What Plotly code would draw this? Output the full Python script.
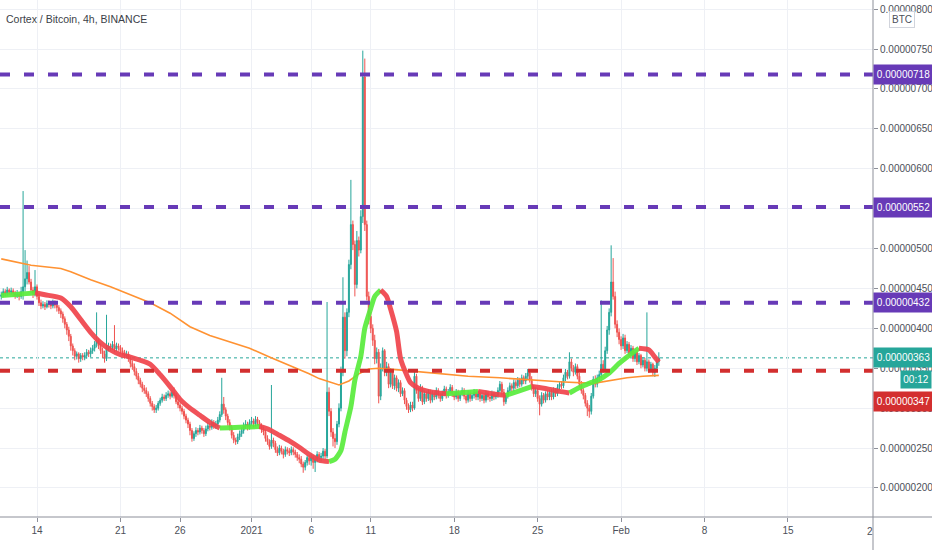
import pandas as pd
import plotly.graph_objects as go

# ---------------- data (prices in satoshi, i.e. units of 1e-8 BTC) ----------------
START = "2020-12-11 00:00"          # first 4h candle
FIRST_OPEN = 440

close = [
    442, 446, 444, 448, 445, 447,   # Dec 11
    444, 441, 443, 440, 446, 452,   # Dec 12
    462, 470, 458, 448, 444, 452,   # Dec 13
    440, 432, 428, 430, 427, 431,   # Dec 14
    430, 428, 432, 429, 426, 422,   # Dec 15
    418, 412, 405, 398, 390, 378,   # Dec 16
    372, 365, 368, 362, 366, 364,   # Dec 17
    366, 370, 368, 372, 375, 380,   # Dec 18
    385, 378, 372, 368, 362, 375,   # Dec 19
    378, 376, 380, 374, 378, 376,   # Dec 20
    372, 370, 366, 368, 362, 356,   # Dec 21
    352, 346, 340, 335, 330, 325,   # Dec 22
    322, 318, 312, 306, 302, 298,   # Dec 23
    300, 306, 310, 314, 312, 316,   # Dec 24
    318, 315, 320, 316, 308, 304,   # Dec 25
    300, 296, 290, 285, 280, 272,   # Dec 26
    262, 268, 272, 270, 275, 272,   # Dec 27
    268, 274, 278, 276, 282, 278,   # Dec 28
    280, 285, 292, 305, 298, 290,   # Dec 29
    282, 276, 266, 260, 258, 264,   # Dec 30
    268, 272, 278, 280, 276, 282,   # Dec 31
    284, 280, 286, 282, 278, 274,   # Jan 1
    270, 262, 258, 252, 260, 256,   # Jan 2
    248, 244, 250, 246, 242, 248,   # Jan 3
    246, 244, 248, 245, 242, 238,   # Jan 4
    236, 230, 226, 232, 238, 234,   # Jan 5
    238, 232, 236, 242, 238, 240,   # Jan 6
    246, 240, 320, 296, 270, 262,   # Jan 7
    258, 280, 300, 345, 414, 372,   # Jan 8
    420, 480, 530, 505, 455, 510,   # Jan 9
    498, 540, 715, 530, 440, 415,   # Jan 10
    400, 385, 362, 370, 315, 350,   # Jan 11
    372, 345, 352, 330, 345, 328,   # Jan 12
    338, 325, 332, 318, 322, 310,   # Jan 13
    302, 298, 304, 300, 340, 322,   # Jan 14
    312, 325, 308, 318, 312, 320,   # Jan 15
    310, 318, 314, 322, 316, 312,   # Jan 16
    318, 324, 316, 320, 326, 318,   # Jan 17
    314, 320, 312, 318, 322, 315,   # Jan 18
    310, 318, 312, 316, 320, 314,   # Jan 19
    318, 312, 316, 310, 318, 314,   # Jan 20
    312, 318, 314, 316, 322, 330,   # Jan 21
    320, 308, 316, 322, 328, 325,   # Jan 22
    332, 328, 335, 330, 338, 334,   # Jan 23
    340, 344, 336, 326, 318, 322,   # Jan 24
    312, 305, 316, 310, 318, 314,   # Jan 25
    320, 314, 322, 318, 326, 330,   # Jan 26
    328, 338, 345, 340, 358, 350,   # Jan 27
    345, 352, 340, 330, 322, 316,   # Jan 28
    306, 300, 296, 315, 336, 330,   # Jan 29
    338, 342, 355, 348, 372, 398,   # Jan 30
    420, 458, 440, 405, 395, 386,   # Jan 31
    378, 388, 372, 380, 368, 375,   # Feb 1
    362, 370, 358, 366, 354, 360,   # Feb 2
    350, 358, 348, 355, 345, 350,   # Feb 3
    358, 363,                       # Feb 4
]

high = [
    446, 450, 449, 452, 450, 451,
    450, 447, 448, 446, 452, 572,
    498, 485, 478, 462, 452, 473,
    455, 444, 436, 434, 433, 435,
    435, 433, 436, 435, 432, 429,
    425, 421, 415, 408, 402, 393,
    381, 375, 371, 370, 369, 369,
    370, 374, 373, 376, 379, 384,
    420, 388, 381, 376, 372, 417,
    382, 381, 384, 404, 382, 381,
    379, 376, 373, 372, 371, 365,
    360, 356, 350, 344, 338, 333,
    329, 326, 321, 315, 309, 305,
    304, 309, 313, 318, 317, 320,
    322, 321, 323, 326, 319, 311,
    307, 303, 299, 293, 288, 283,
    275, 271, 276, 275, 279, 278,
    275, 278, 282, 281, 286, 285,
    284, 289, 296, 338, 314, 301,
    293, 286, 279, 270, 263, 268,
    272, 276, 282, 285, 283, 286,
    289, 287, 290, 289, 285, 281,
    277, 273, 266, 261, 329, 263,
    259, 252, 254, 253, 249, 252,
    251, 250, 252, 251, 248, 245,
    242, 240, 233, 235, 241, 241,
    242, 241, 240, 246, 245, 244,
    250, 249, 433, 326, 300, 275,
    268, 284, 306, 352, 464, 420,
    425, 486, 586, 535, 510, 522,
    515, 548, 748, 738, 535, 446,
    420, 405, 392, 376, 374, 356,
    376, 374, 358, 356, 350, 348,
    342, 341, 336, 335, 326, 325,
    313, 306, 308, 308, 348, 343,
    326, 330, 328, 322, 321, 324,
    323, 322, 321, 326, 325, 319,
    322, 328, 327, 324, 330, 329,
    321, 324, 323, 321, 326, 325,
    318, 322, 321, 319, 324, 323,
    322, 321, 320, 319, 322, 321,
    317, 322, 321, 320, 326, 334,
    333, 324, 319, 326, 332, 331,
    336, 335, 339, 338, 342, 341,
    344, 349, 348, 340, 329, 326,
    325, 316, 320, 319, 321, 322,
    323, 324, 326, 325, 330, 334,
    334, 342, 349, 348, 370, 362,
    354, 356, 355, 344, 334, 325,
    319, 310, 304, 319, 340, 341,
    342, 347, 435, 360, 377, 403,
    425, 504, 488, 446, 410, 400,
    390, 393, 392, 384, 383, 379,
    378, 374, 373, 369, 368, 364,
    363, 420, 361, 358, 357, 354,
    362, 370,
]

low = [
    436, 439, 440, 441, 442, 442,
    440, 437, 438, 435, 437, 436,
    446, 455, 455, 444, 438, 440,
    436, 428, 424, 425, 423, 425,
    426, 424, 425, 425, 421, 418,
    413, 407, 400, 392, 384, 372,
    366, 360, 361, 357, 358, 360,
    360, 362, 364, 364, 368, 371,
    376, 374, 368, 363, 357, 359,
    371, 372, 373, 370, 371, 372,
    368, 366, 362, 363, 358, 351,
    348, 341, 336, 330, 326, 320,
    318, 314, 308, 302, 297, 294,
    294, 297, 303, 307, 309, 309,
    313, 311, 313, 312, 305, 300,
    296, 292, 286, 281, 275, 266,
    258, 259, 264, 266, 267, 268,
    264, 265, 271, 272, 273, 274,
    274, 276, 282, 289, 293, 285,
    278, 272, 262, 256, 254, 255,
    260, 264, 268, 274, 272, 273,
    278, 276, 277, 278, 274, 269,
    266, 258, 254, 248, 249, 251,
    244, 240, 241, 242, 237, 239,
    242, 240, 241, 241, 238, 234,
    231, 226, 219, 222, 228, 229,
    228, 224, 220, 232, 234, 233,
    236, 236, 237, 290, 264, 252,
    250, 254, 276, 296, 340, 362,
    365, 414, 474, 498, 440, 450,
    490, 494, 532, 522, 435, 405,
    394, 378, 355, 356, 306, 310,
    346, 340, 340, 325, 326, 324,
    323, 321, 320, 314, 315, 305,
    298, 294, 295, 296, 298, 318,
    308, 309, 304, 305, 308, 309,
    306, 307, 310, 311, 312, 308,
    309, 315, 312, 313, 317, 314,
    310, 311, 308, 309, 315, 311,
    306, 307, 308, 309, 312, 310,
    310, 308, 309, 306, 307, 310,
    308, 309, 310, 311, 313, 319,
    316, 303, 305, 312, 319, 321,
    321, 324, 325, 326, 327, 330,
    330, 336, 332, 322, 314, 314,
    308, 291, 302, 306, 307, 310,
    310, 310, 311, 314, 315, 322,
    324, 325, 334, 336, 337, 346,
    340, 342, 336, 326, 318, 311,
    302, 290, 288, 292, 312, 326,
    326, 334, 338, 344, 345, 368,
    392, 415, 436, 400, 389, 380,
    373, 374, 368, 369, 364, 365,
    358, 358, 354, 355, 350, 351,
    346, 346, 344, 345, 340, 339,
    347, 353,
]

# thick moving average, positions given as candle index
fast_ma_idx = [0, 5, 10, 15, 17, 22, 30, 35, 40, 45, 50, 55, 60, 65, 70, 75, 80, 85,
               90, 95, 100, 105, 110, 115, 120, 125, 130, 135, 140, 145, 150, 155,
               160, 165, 168, 171, 173, 176, 178, 181, 183, 186, 188, 191, 194, 196,
               199, 201, 204, 206, 210, 215, 220, 224, 230, 235, 240, 245, 250, 254,
               260, 267, 275, 281, 286, 291, 296, 301, 306, 311, 316, 321, 326, 329, 331]
fast_ma_val = [441, 442, 443, 444, 444.5, 442, 438, 427, 411, 395, 382, 373, 367, 364,
               360, 355, 342, 327, 311, 300, 291, 282, 275, 275.5, 276, 276.5, 277,
               273, 266, 259, 251, 242, 235, 233, 236, 247, 270, 302, 335, 365, 400,
               425, 440, 448, 440, 424, 396, 362, 342, 332, 325, 321, 319, 318, 319,
               320, 321, 319, 317, 316, 321, 327, 324, 321, 319, 326, 331, 336, 344,
               356, 366, 375, 373, 364, 358]

# slow (orange) moving average
slow_ma_idx = [0, 15, 30, 35, 45, 55, 65, 75, 85, 95, 105, 115, 125, 135, 145, 155,
               160, 170, 175, 180, 185, 190, 200, 218, 235, 251, 268, 281, 298, 308,
               315, 323, 331]
slow_ma_val = [487, 479, 475, 471, 461, 452, 442, 432, 419, 402, 391, 383, 375, 364,
               354, 343, 337, 329, 334, 343, 349, 350, 348, 344, 340, 338, 335, 333,
               331, 335, 338, 340, 341]

level_lines = [718, 552, 432]      # purple horizontal levels
support_line = 347                 # red horizontal level
last_price = 363
countdown = "00:12"

x_tick_dates = ["2020-12-14", "2020-12-21", "2020-12-26", "2021-01-01", "2021-01-06",
                "2021-01-11", "2021-01-18", "2021-01-25", "2021-02-01", "2021-02-08",
                "2021-02-15"]
x_tick_text = ["14", "21", "26", "2021", "6", "11", "18", "25", "Feb", "8", "15"]

TITLE = "Cortex / Bitcoin, 4h, BINANCE"

# ---------------- build ----------------
SAT = 1e-8
t0 = pd.Timestamp(START)
def idx_time(i):
    return t0 + pd.Timedelta(hours=4 * i)

n = len(close)
times = [idx_time(i) for i in range(n)]
opens = [FIRST_OPEN] + close[:-1]

FONT = "Liberation Sans, Arial, sans-serif"
UP, DOWN = "#26a69a", "#ef5350"
PURPLE, RED = "#673ab7", "#d32f2f"
TXT = "#4c4f59"

fig = go.Figure()

fig.add_trace(go.Scatter(
    x=[idx_time(i) for i in slow_ma_idx], y=[v * SAT for v in slow_ma_val],
    mode="lines", line=dict(color="#ff9232", width=1.6), hoverinfo="skip", showlegend=False))

fig.add_trace(go.Candlestick(
    x=times, open=[v * SAT for v in opens], high=[v * SAT for v in high],
    low=[v * SAT for v in low], close=[v * SAT for v in close],
    increasing=dict(line=dict(color=UP, width=1), fillcolor=UP),
    decreasing=dict(line=dict(color=DOWN, width=1), fillcolor=DOWN),
    whiskerwidth=0, hoverinfo="skip", showlegend=False))

# fast MA coloured by direction
runs = []
cur = None
for k in range(1, len(fast_ma_idx)):
    d = fast_ma_val[k] - fast_ma_val[k - 1]
    col = "#59ec3c" if d > 0 else ("#f0444c" if d < 0 else (cur[0] if cur else "#59ec3c"))
    if cur is None or cur[0] != col:
        cur = [col, [k - 1, k]]
        runs.append(cur)
    else:
        cur[1].append(k)
for col, ks in runs:
    fig.add_trace(go.Scatter(
        x=[idx_time(fast_ma_idx[k]) for k in ks], y=[fast_ma_val[k] * SAT for k in ks],
        mode="lines", line=dict(color=col, width=5, shape="spline", smoothing=0.6),
        opacity=0.92, hoverinfo="skip", showlegend=False))

PX_DAY = 11.92
x_start = pd.Timestamp("2020-12-14") - pd.Timedelta(days=37 / PX_DAY)
x_end = x_start + pd.Timedelta(days=873 / PX_DAY)

y_lo = 163.6 * SAT
y_hi = 811.4 * SAT

shapes = []
for lv in level_lines:
    shapes.append(dict(type="line", xref="paper", x0=0, x1=1, yref="y", y0=lv * SAT, y1=lv * SAT,
                       line=dict(color=PURPLE, width=4, dash="10px,14px"), layer="above"))
shapes.append(dict(type="line", xref="paper", x0=0, x1=1, yref="y", y0=support_line * SAT,
                   y1=support_line * SAT, line=dict(color=RED, width=4, dash="10px,14px"), layer="above"))
shapes.append(dict(type="line", xref="paper", x0=0, x1=1, yref="y", y0=last_price * SAT,
                   y1=last_price * SAT, line=dict(color=UP, width=1, dash="dot"), layer="below"))
# axes borders
shapes.append(dict(type="line", xref="paper", x0=1, x1=1, yref="paper", y0=-40 / 517, y1=1,
                   line=dict(color="#8c8f99", width=1), layer="above"))
shapes.append(dict(type="line", xref="paper", x0=0, x1=940 / 873, yref="paper", y0=0, y1=0,
                   line=dict(color="#8c8f99", width=1), layer="above"))

annotations = []
def price_label(v, bg, yshift=0):
    annotations.append(dict(
        xref="paper", x=1, xanchor="left", yref="y", y=v * SAT, yanchor="middle", yshift=yshift,
        text="%.8f" % (v * SAT), showarrow=False, bgcolor=bg, width=57, height=17, borderpad=1,
        font=dict(family=FONT, size=10, color="white"), align="center"))

for lv in level_lines:
    price_label(lv, PURPLE)
price_label(last_price, UP)
annotations.append(dict(
    xref="paper", x=1, xanchor="left", xshift=27, yref="y", y=last_price * SAT, yanchor="middle",
    yshift=-22, text=countdown, showarrow=False, bgcolor=UP, width=28, height=15, borderpad=1,
    font=dict(family=FONT, size=10, color="white")))
price_label(support_line, RED, yshift=-31)

annotations.append(dict(
    xref="paper", x=0, xanchor="left", xshift=4, yref="paper", y=1 - 19 / 517, yanchor="middle",
    text=TITLE, showarrow=False, font=dict(family=FONT, size=10.5, color="#3c3f48")))
annotations.append(dict(
    xref="paper", x=902 / 873, xanchor="center", yref="paper", y=1 - 19 / 517, yanchor="middle",
    text="BTC", showarrow=False, bgcolor="white", bordercolor="#d1d4dc", borderwidth=1,
    borderpad=2, font=dict(family=FONT, size=10, color=TXT)))
annotations.append(dict(
    xref="paper", x=1, xanchor="right", xshift=2, yref="paper", y=0, yanchor="top", yshift=-7,
    text="2", showarrow=False, font=dict(family=FONT, size=10, color=TXT)))

fig.update_layout(
    width=932, height=550,
    margin=dict(l=0, r=59, t=0, b=33),
    paper_bgcolor="white", plot_bgcolor="white",
    showlegend=False, hovermode=False,
    font=dict(family=FONT, size=10, color=TXT),
    shapes=shapes, annotations=annotations,
    xaxis=dict(type="date", range=[x_start, x_end], rangeslider=dict(visible=False),
               tickvals=x_tick_dates, ticktext=x_tick_text, showgrid=True, gridcolor="#eef0f5",
               gridwidth=1, ticks="outside", ticklen=4, tickcolor="#8c8f99", showline=False,
               zeroline=False, tickfont=dict(family=FONT, size=10, color=TXT), fixedrange=True),
    yaxis=dict(side="right", range=[y_lo, y_hi], tickmode="linear", tick0=0, dtick=50 * SAT,
               tickformat=".8f", showgrid=True, gridcolor="#eef0f5", gridwidth=1,
               ticks="outside", ticklen=4, tickcolor="#8c8f99", showline=False, zeroline=False,
               tickfont=dict(family=FONT, size=10, color=TXT), fixedrange=True, automargin=False),
)

fig.write_html("out.html", config={"displayModeBar": False},
               post_script="document.body.style.margin='0';")
